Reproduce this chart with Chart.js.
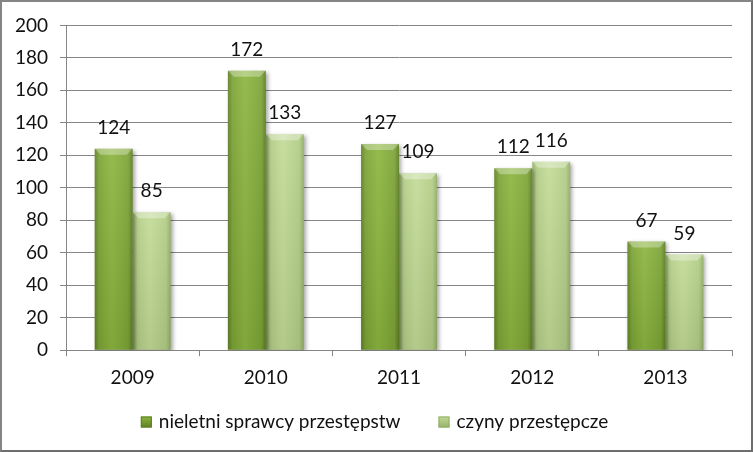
<!DOCTYPE html>
<html>
<head>
<meta charset="utf-8">
<script src="https://cdn.jsdelivr.net/npm/chart.js@4"></script>
<style>
  html, body { margin: 0; padding: 0; background: #fff; }
  #ramka { width: 753px; height: 452px; box-sizing: border-box; border: 2px solid #858585; border-right-color: #6e6e6e; border-bottom-color: #6e6e6e; }
  #wykres { display: block; }
</style>
</head>
<body>
<div id="ramka"><canvas id="wykres" width="749" height="448"></canvas></div>
<script>
// --- dane ---
const lata = ['2009', '2010', '2011', '2012', '2013'];
const nieletni = [124, 172, 127, 112, 67];
const czyny = [85, 133, 109, 116, 59];
const etykiety = ['nieletni sprawcy przestępstw', 'czyny przestępcze'];

const czcionka = 'Lato, "Open Sans", sans-serif';
const procentKat = 0.57;

const ciemny = ['#5f8024', '#8cb63f', '#7ca436', '#5c7c22'];
const jasny = ['#94b266', '#c3db98', '#b2cd85', '#92ad66'];

// gradient poziomy (efekt walca), liczony ze skali x
function gradient(ctx, kolory) {
    const chart = ctx.chart;
    const sx = chart.scales.x;
    if (!chart.chartArea || !sx || ctx.dataIndex === undefined) return kolory[2];
    const szer = sx.width / lata.length * procentKat / 2;
    const srodek = sx.getPixelForValue(ctx.dataIndex);
    const x0 = ctx.datasetIndex === 0 ? srodek - szer : srodek;
    const g = chart.ctx.createLinearGradient(x0, 0, x0 + szer, 0);
    g.addColorStop(0, kolory[0]);
    g.addColorStop(0.12, kolory[2]);
    g.addColorStop(0.45, kolory[1]);
    g.addColorStop(0.88, kolory[2]);
    g.addColorStop(1, kolory[3]);
    return g;
}

function kwadrat(c, x, y, s, kolory) {
    const g = c.createLinearGradient(x, y, x, y + s);
    g.addColorStop(0, kolory[1]);
    g.addColorStop(1, kolory[0]);
    c.fillStyle = g;
    c.fillRect(x, y, s, s);
    c.strokeStyle = kolory[3];
    c.lineWidth = 1;
    c.strokeRect(x + 0.5, y + 0.5, s - 1, s - 1);
}

// cien, bevel, wartosci nad slupkami, legenda
const dodatkiPlugin = {
    id: 'dodatki',
    beforeDatasetsDraw(chart) {
        const c = chart.ctx;
        c.save();
        c.shadowColor = 'rgba(0,0,0,0.35)';
        c.shadowBlur = 4;
        c.shadowOffsetX = 2;
        c.shadowOffsetY = 2;
    },
    afterDatasetsDraw(chart) {
        const c = chart.ctx;
        c.restore();
        c.save();
        const dol = chart.scales.y.getPixelForValue(0);
        chart.data.datasets.forEach((ds, i) => {
            chart.getDatasetMeta(i).data.forEach(bar => {
                const x0 = bar.x - bar.width / 2, w = bar.width;
                // przyciemnienie ku dolowi
                const gv = c.createLinearGradient(0, bar.y, 0, dol);
                gv.addColorStop(0, 'rgba(255,255,255,0.08)');
                gv.addColorStop(1, 'rgba(0,0,0,0.08)');
                c.fillStyle = gv;
                c.fillRect(x0, bar.y, w, dol - bar.y);
                // bevel na gorze
                c.fillStyle = 'rgba(255,255,255,0.32)';
                c.beginPath();
                c.moveTo(x0, bar.y);
                c.lineTo(x0 + w, bar.y);
                c.lineTo(x0 + w - 6, bar.y + 6);
                c.lineTo(x0 + 6, bar.y + 6);
                c.closePath();
                c.fill();
            });
        });
        c.font = '19px ' + czcionka;
        c.fillStyle = '#111';
        c.textAlign = 'center';
        c.textBaseline = 'middle';
        chart.data.datasets.forEach((ds, i) => {
            chart.getDatasetMeta(i).data.forEach((bar, j) => {
                c.fillText(ds.data[j], bar.x, bar.y - 21);
            });
        });
        c.restore();
    },
    afterDraw(chart) {
        // legenda na dole
        const c = chart.ctx;
        c.save();
        c.font = '19px ' + czcionka;
        c.textBaseline = 'middle';
        c.fillStyle = '#111';
        const box = 11, odstep = 7, przerwa = 38;
        const szer = etykiety.map(t => box + odstep + c.measureText(t).width);
        const calosc = szer[0] + przerwa + szer[1];
        let x = (chart.width - calosc) / 2 - 2;
        const y = 420;
        etykiety.forEach((t, i) => {
            kwadrat(c, x, y - box / 2, box, i === 0 ? ciemny : jasny);
            c.fillStyle = '#111';
            c.fillText(t, x + box + odstep, y);
            x += szer[i] + przerwa;
        });
        c.restore();
    }
};

new Chart(document.getElementById('wykres'), {
    type: 'bar',
    data: {
        labels: lata,
        datasets: [
            { label: etykiety[0], data: nieletni, backgroundColor: ctx => gradient(ctx, ciemny), borderWidth: 0 },
            { label: etykiety[1], data: czyny, backgroundColor: ctx => gradient(ctx, jasny), borderWidth: 0 }
        ]
    },
    options: {
        responsive: false,
        animation: false,
        categoryPercentage: procentKat,
        barPercentage: 1.0,
        layout: { padding: { top: 12, right: 19, left: 1, bottom: 51 } },
        scales: {
            x: {
                grid: { offset: true, drawOnChartArea: false, color: '#868686', tickLength: 6 },
                border: { color: '#868686' },
                ticks: { color: '#111', font: { family: czcionka, size: 19 }, padding: 10 }
            },
            y: {
                min: 0, max: 200,
                ticks: { stepSize: 20, color: '#111', font: { family: czcionka, size: 19 }, padding: 12 },
                grid: { color: '#868686', tickLength: 6 },
                border: { color: '#868686' }
            }
        },
        plugins: {
            tooltip: { enabled: false },
            legend: { display: false }
        }
    },
    plugins: [dodatkiPlugin]
});
</script>
</body>
</html>
